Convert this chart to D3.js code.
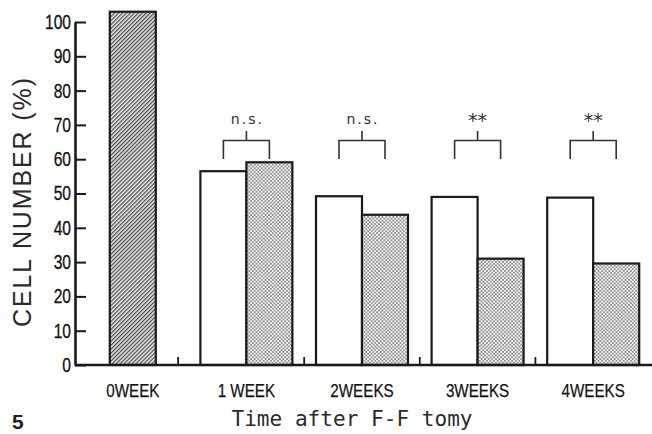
<!DOCTYPE html>
<html>
<head>
<meta charset="utf-8">
<script src="https://cdn.jsdelivr.net/npm/d3@7"></script>
<style>
html,body{margin:0;padding:0;background:#fff;}
svg{display:block;}
</style>
</head>
<body>
<svg id="chart" width="652" height="434"></svg>
<script>
// ---- data ----
const categories = ["0WEEK", "1 WEEK", "2WEEKS", "3WEEKS", "4WEEKS"];
const controlValues = [103, 56.5, 49.2, 49, 48.8];     // 0WEEK = hatched baseline bar, others = open bars
const treatedValues = [null, 59.1, 43.8, 31, 29.6];    // dotted bars
const significance = [null, "n.s.", "n.s.", "**", "**"];
const yTicks = [0, 10, 20, 30, 40, 50, 60, 70, 80, 90, 100];
const yLabel = "CELL NUMBER (%)";
const xTitle = "Time after F-F tomy";
const figNumber = "5";

// ---- layout ----
const svg = d3.select("#chart");
const axisX = 75, baseY = 365, topY = 22;
const x = d3.scaleBand().domain(categories).range([73, 651]);
const y = d3.scaleLinear().domain([0, 100]).range([baseY, topY]);
const barW = 46;
const ink = "#1a1a1a";

// ---- patterns ----
const defs = svg.append("defs");
const hatch = defs.append("pattern").attr("id", "hatch")
  .attr("patternUnits", "userSpaceOnUse").attr("width", 2.8).attr("height", 2.8)
  .attr("patternTransform", "rotate(45)");
hatch.append("rect").attr("width", 2.8).attr("height", 2.8).attr("fill", "#ececec");
hatch.append("line").attr("x1", 0.6).attr("y1", 0).attr("x2", 0.6).attr("y2", 2.8)
  .attr("stroke", "#444").attr("stroke-width", 1.2);

const dots = defs.append("pattern").attr("id", "dots")
  .attr("patternUnits", "userSpaceOnUse").attr("width", 3.6).attr("height", 3.6);
dots.append("rect").attr("width", 3.6).attr("height", 3.6).attr("fill", "#f4f4f4");
dots.append("circle").attr("cx", 0.9).attr("cy", 0.9).attr("r", 0.85).attr("fill", "#6a6a6a");
dots.append("circle").attr("cx", 2.7).attr("cy", 2.7).attr("r", 0.85).attr("fill", "#6a6a6a");

// ---- bars ----
const bars = [];
categories.forEach((c, i) => {
  const cx = x(c) + x.bandwidth() / 2;
  if (treatedValues[i] == null) {
    bars.push({ x0: cx - barW / 2 + 2, v: controlValues[i], fill: "url(#hatch)", cat: i });
  } else {
    bars.push({ x0: cx - barW, v: controlValues[i], fill: "#fff", cat: i });
    bars.push({ x0: cx, v: treatedValues[i], fill: "url(#dots)", cat: i });
  }
});
svg.append("g").selectAll("rect").data(bars).join("rect")
  .attr("x", d => d.x0).attr("width", barW)
  .attr("y", d => y(d.v)).attr("height", d => baseY - y(d.v))
  .attr("fill", d => d.fill).attr("stroke", ink).attr("stroke-width", 2.2);

// ---- x axis baseline + separator ticks (midpoint of gaps between groups) ----
svg.append("line").attr("x1", axisX).attr("x2", 652).attr("y1", baseY).attr("y2", baseY)
  .attr("stroke", ink).attr("stroke-width", 2.6);
const seps = [];
for (let i = 0; i < categories.length - 1; i++) {
  const rightEdge = d3.max(bars.filter(b => b.cat === i), b => b.x0 + barW);
  const leftEdge = d3.min(bars.filter(b => b.cat === i + 1), b => b.x0);
  seps.push((rightEdge + leftEdge) / 2);
}
svg.append("g").selectAll("line").data(seps).join("line")
  .attr("x1", d => d).attr("x2", d => d).attr("y1", baseY).attr("y2", baseY - 8)
  .attr("stroke", ink).attr("stroke-width", 1.8);

// ---- y axis ----
const yAxis = d3.axisLeft(y).tickValues(yTicks).tickSizeInner(-11).tickSizeOuter(0).tickPadding(4);
const gy = svg.append("g").attr("transform", `translate(${axisX},0)`).call(yAxis);
gy.select(".domain").attr("stroke", ink).attr("stroke-width", 2.6);
gy.selectAll(".tick line").attr("stroke", ink).attr("stroke-width", 2);
gy.selectAll(".tick text")
  .attr("font-family", "'Liberation Sans', Arial, sans-serif")
  .attr("font-size", 20).attr("fill", "#111")
  .attr("stroke", "#111").attr("stroke-width", 0.3)
  .each(function () {
    const w = this.getComputedTextLength();
    d3.select(this).attr("textLength", w * 0.78).attr("lengthAdjust", "spacingAndGlyphs");
  });

// ---- x category labels ----
svg.append("g").selectAll("text").data(categories).join("text")
  .attr("x", (d, i) => x(d) + x.bandwidth() / 2 + (i === 0 ? 2 : 0)).attr("y", 397)
  .attr("text-anchor", "middle")
  .attr("font-family", "'Liberation Sans', Arial, sans-serif")
  .attr("font-size", 19).attr("fill", "#111")
  .attr("stroke", "#111").attr("stroke-width", 0.25)
  .text(d => d)
  .each(function () {
    const w = this.getComputedTextLength();
    d3.select(this).attr("textLength", w * 0.8).attr("lengthAdjust", "spacingAndGlyphs");
  });

// ---- significance brackets ----
const brTop = 140.5, brLeg = 159, brStem = 131;
categories.forEach((c, i) => {
  if (!significance[i]) return;
  const g = bars.filter(b => b.cat === i);
  const xa = g[0].x0 + barW / 2, xb = g[1].x0 + barW / 2, xm = (xa + xb) / 2;
  svg.append("path")
    .attr("d", `M${xa},${brLeg}V${brTop}H${xb}V${brLeg}M${xm},${brTop}V${brStem}`)
    .attr("fill", "none").attr("stroke", "#333").attr("stroke-width", 1.6);
  const isNS = significance[i] === "n.s.";
  svg.append("text").attr("x", xm + (isNS ? 1 : 0)).attr("y", isNS ? 124 : 127)
    .attr("text-anchor", "middle")
    .attr("font-family", "'DejaVu Sans', sans-serif")
    .attr("font-size", isNS ? 14 : 19)
    .attr("letter-spacing", isNS ? 2 : 0)
    .attr("fill", "#333")
    .text(significance[i]);
});

// ---- axis titles ----
svg.append("text")
  .attr("transform", "translate(31,202.5) rotate(-90)")
  .attr("text-anchor", "middle")
  .attr("font-family", "'Liberation Sans', Arial, sans-serif")
  .attr("font-size", 25).attr("fill", "#2a2a2a")
  .attr("textLength", 249).attr("lengthAdjust", "spacing")
  .text(yLabel);

svg.append("text")
  .attr("x", 352).attr("y", 426)
  .attr("text-anchor", "middle")
  .attr("font-family", "'DejaVu Sans Mono', monospace")
  .attr("font-size", 21).attr("fill", "#2a2a2a")
  .attr("textLength", 241).attr("lengthAdjust", "spacingAndGlyphs")
  .text(xTitle);

svg.append("text")
  .attr("x", 12).attr("y", 429)
  .attr("font-family", "'Liberation Sans', Arial, sans-serif")
  .attr("font-weight", "bold")
  .attr("font-size", 21).attr("fill", "#222")
  .text(figNumber);
</script>
</body>
</html>
